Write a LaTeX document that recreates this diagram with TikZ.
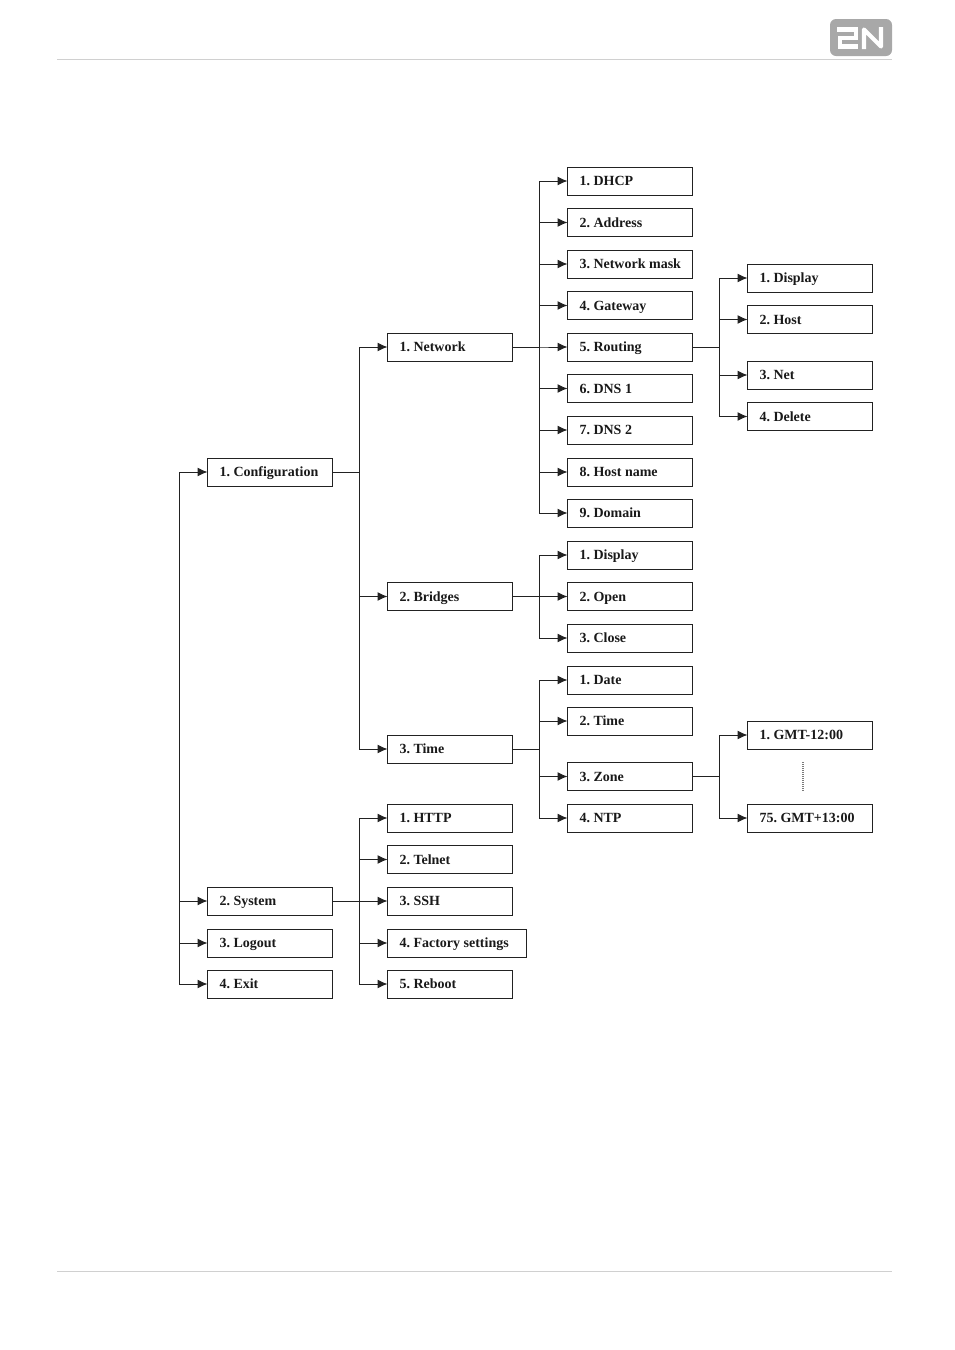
\documentclass[tikz,border=0pt]{standalone}
\usepackage{fontspec}
\setmainfont{Liberation Serif}
\usetikzlibrary{arrows.meta}
\definecolor{boxline}{HTML}{222222}
\definecolor{rule}{HTML}{D0D0D0}
\definecolor{logo}{HTML}{A8A8A8}
\newcommand\menufont{\bfseries\fontsize{14}{16}\selectfont\frenchspacing}
\newcommand\menustart{\spaceskip=0.25em\relax\hspace*{12pt}}
\tikzset{
  x=1pt,y=-1pt,
  menubox/.style={draw=boxline,line width=1pt,outer sep=0pt,anchor=west,minimum height=28pt,inner xsep=0pt,inner ysep=0pt,
    text width=125pt,align=left,text height=11.8pt,text depth=2.8pt,
    font=\menufont,text=black!90,
    execute at begin node={\menustart}},
  widebox/.style={menubox,text width=139pt},
  link/.style={draw=boxline,line width=1pt},
  arr/.style={link,-{Latex[length=10pt,width=9pt]}},
}
\begin{document}
\begin{tikzpicture}
\useasboundingbox (0,0) rectangle (954,1350);
% page furniture
\draw[rule,line width=1pt] (57,59.5) -- (892,59.5);
\draw[rule,line width=1pt] (57,1271.5) -- (892,1271.5);
\fill[logo,rounded corners=6pt] (830,19) rectangle (892,56);
\draw[white,line width=4.4pt,line join=miter] (837,29.5) -- (856,29.5) -- (856,38) -- (840,38) -- (840,46.5) -- (858,46.5);
\draw[white,line width=4.2pt,line join=round] (864,49) -- (864,29.5) -- (881,46.5) -- (881,27);
% column 1
\node[menubox] (conf) at (207.5,472) {1. Configuration};
\node[menubox] (sys) at (207.5,901) {2. System};
\node[menubox] (logout) at (207.5,943) {3. Logout};
\node[menubox] (exit) at (207.5,984) {4. Exit};
% column 2
\node[menubox] (net) at (387.5,347) {1. Network};
\node[menubox] (bri) at (387.5,596.5) {2. Bridges};
\node[menubox] (time) at (387.5,749) {3. Time};
\node[menubox] (http) at (387.5,818) {1. HTTP};
\node[menubox] (telnet) at (387.5,859.5) {2. Telnet};
\node[menubox] (ssh) at (387.5,901) {3. SSH};
\node[widebox] (fact) at (387.5,943) {4. Factory settings};
\node[menubox] (reboot) at (387.5,984) {5. Reboot};
% column 3
\node[menubox] (dhcp) at (567.5,181) {1. DHCP};
\node[menubox] (addr) at (567.5,222.5) {2. Address};
\node[menubox] (mask) at (567.5,264) {3. Network mask};
\node[menubox] (gw) at (567.5,305.5) {4. Gateway};
\node[menubox] (rout) at (567.5,347) {5. Routing};
\node[menubox] (dnsa) at (567.5,388.5) {6. DNS 1};
\node[menubox] (dnsb) at (567.5,430) {7. DNS 2};
\node[menubox] (hostn) at (567.5,472) {8. Host name};
\node[menubox] (dom) at (567.5,513) {9. Domain};
\node[menubox] (bdisp) at (567.5,555) {1. Display};
\node[menubox] (bopen) at (567.5,596.5) {2. Open};
\node[menubox] (bclose) at (567.5,638) {3. Close};
\node[menubox] (date) at (567.5,680) {1. Date};
\node[menubox] (ttime) at (567.5,721) {2. Time};
\node[menubox] (zone) at (567.5,776.5) {3. Zone};
\node[menubox] (ntp) at (567.5,818) {4. NTP};
% column 4
\node[menubox] (rdisp) at (747.5,278) {1. Display};
\node[menubox] (rhost) at (747.5,319.5) {2. Host};
\node[menubox] (rnet) at (747.5,375) {3. Net};
\node[menubox] (rdel) at (747.5,416.5) {4. Delete};
\node[menubox] (gmta) at (747.5,735) {1. GMT-12:00};
\node[menubox] (gmtb) at (747.5,818) {75. GMT+13:00};
% buses
\coordinate (rootbus) at (179.5,472);
\draw[arr] (rootbus) -- (conf.west);
\foreach \c in {sys,logout,exit} \draw[arr] (rootbus) |- (\c.west);
\foreach \c in {net,bri,time} \draw[arr] (conf.east) -- ++(27,0) |- (\c.west);
\foreach \c in {dhcp,addr,mask,gw,rout,dnsa,dnsb,hostn,dom} \draw[arr] (net.east) -- ++(27,0) |- (\c.west);
\foreach \c in {bdisp,bopen,bclose} \draw[arr] (bri.east) -- ++(27,0) |- (\c.west);
\foreach \c in {date,ttime,zone,ntp} \draw[arr] (time.east) -- ++(27,0) |- (\c.west);
\foreach \c in {http,telnet,ssh,fact,reboot} \draw[arr] (sys.east) -- ++(27,0) |- (\c.west);
\foreach \c in {rdisp,rhost,rnet,rdel} \draw[arr] (rout.east) -- ++(27,0) |- (\c.west);
\foreach \c in {gmta,gmtb} \draw[arr] (zone.east) -- ++(27,0) |- (\c.west);
% dotted continuation
\coordinate (dota) at (803,762);
\coordinate (dotb) at (803,792);
\draw[boxline!60,line width=2pt,dash pattern=on 1pt off 1pt] (dota) -- (dotb);
\end{tikzpicture}
\end{document}
